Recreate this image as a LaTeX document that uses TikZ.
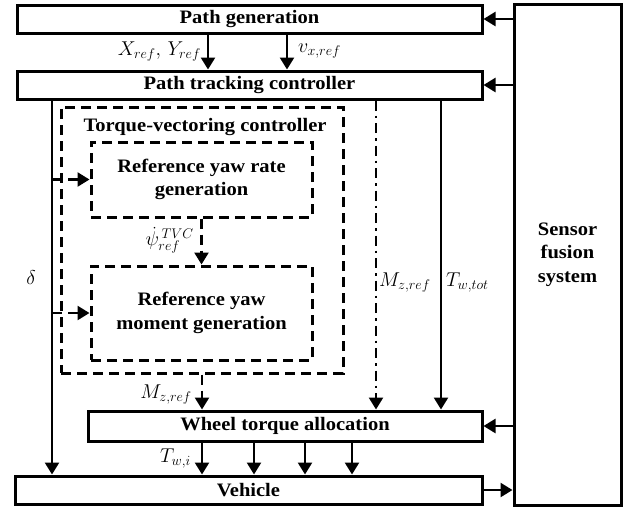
\documentclass[tikz,border=0pt]{standalone}
\usepackage{fix-cm}
\usepackage{fontspec}
\setmainfont{Liberation Serif}[FakeStretch=1.08]
\usetikzlibrary{arrows.meta,positioning}

\begin{document}
\begin{tikzpicture}[x=1pt,y=-1pt,
  blk/.style={draw,line width=3pt,inner sep=0pt,align=center,
    font=\fontsize{19}{23.5}\selectfont\bfseries},
  dblk/.style={blk,dash pattern=on 10pt off 6pt},
  arr/.style={line width=2.5pt,-{Triangle[width=14pt,length=12pt]}},
  darr/.style={arr,dash pattern=on 10pt off 6pt},
  dotarr/.style={arr,dash pattern=on 10pt off 5pt on 2.5pt off 5pt},
  lbl/.style={inner sep=1pt,font=\fontsize{20}{24}\selectfont}]

\useasboundingbox (0,0) rectangle (630,507);

\node[blk,minimum width=465pt,minimum height=28pt] (pg) at (249.5,19) {Path generation};
\node[blk,minimum width=465pt,minimum height=28pt] (pt) at (249.5,85) {Path tracking controller};
\node[blk,minimum width=107pt,minimum height=501pt] (sf) at (567.5,254.5) {Sensor\\fusion\\system};
\node[dblk,minimum width=282pt,minimum height=266pt] (tvc) at (202,240) {};
\node[font=\fontsize{19}{23.5}\selectfont\bfseries] (tvct) at (205,127) {Torque-vectoring controller};
\node[dblk,minimum width=221pt,minimum height=75pt] (ryr) at (201.5,179.5) {Reference yaw rate\\generation};
\node[dblk,minimum width=221pt,minimum height=94pt] (rym) at (201.5,313) {Reference yaw\\moment generation};
\node[blk,minimum width=394pt,minimum height=30pt] (wta) at (285,426) {Wheel torque allocation};
\node[blk,minimum width=467pt,minimum height=28pt] (veh) at (248.5,490) {Vehicle};

\coordinate (cXY) at (208,0);
\coordinate (cV) at (287,0);
\coordinate (cD) at (52,0);
\coordinate (cM) at (376,0);
\coordinate (cT) at (441,0);

\draw[arr] (sf.west |- pg.east) -- (pg.east);
\draw[arr] (sf.west |- pt.east) -- (pt.east);
\draw[arr] (sf.west |- wta.east) -- (wta.east);
\draw[arr] (veh.east) -- (sf.west |- veh.east);

\draw[arr] (pg.south -| cXY) -- (pt.north -| cXY);
\draw[arr] (pg.south -| cV) -- (pt.north -| cV);
\node[lbl,anchor=east] (lxy) at (202,52) {$X_{ref},\,Y_{ref}$};
\node[lbl,anchor=west] (lv) at (297,51) {$v_{x,ref}$};

\draw[arr] (pt.south -| cD) -- (veh.north -| cD);
\node[lbl] (ld) at (31,278) {$\delta$};
\draw[darr] (ryr.west -| cD) -- (ryr.west);
\draw[darr] (rym.west -| cD) -- (rym.west);

\draw[darr] (ryr.south) -- (rym.north);
\node[lbl,anchor=east] (lpsi) at (195,240) {$\dot{\psi}^{\,TVC}_{ref}$};

\draw[darr] (tvc.south) -- (wta.north -| tvc.south);
\node[lbl,anchor=east] (lmz) at (193,395) {$M_{z,ref}$};

\draw[dotarr] (pt.south -| cM) -- (wta.north -| cM);
\node[lbl,anchor=west] (lmzr) at (378,283) {$M_{z,ref}$};
\draw[arr] (pt.south -| cT) -- (wta.north -| cT);
\node[lbl,anchor=west] (ltw) at (445,283) {$T_{w,tot}$};

\foreach \x in {202,254,305,352}
  \draw[arr] (wta.south -| \x,0) -- (veh.north -| \x,0);
\node[lbl,anchor=east] (lti) at (192,459) {$T_{w,i}$};

\end{tikzpicture}
\end{document}
